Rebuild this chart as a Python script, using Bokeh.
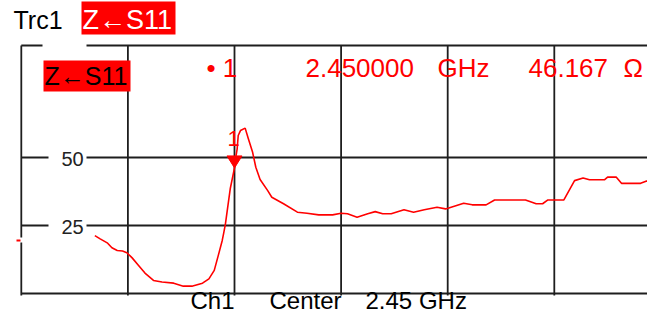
from bokeh.plotting import figure
from bokeh.models import Range1d
from bokeh.core.properties import value
from bokeh.embed import file_html
from bokeh.resources import INLINE

# ---------------- data ----------------
freq_ghz = [2.319, 2.324, 2.331, 2.335, 2.340, 2.345, 2.349, 2.354, 2.360, 2.366,
            2.374, 2.382, 2.393, 2.402, 2.410, 2.420, 2.426, 2.431, 2.435, 2.4385,
            2.440, 2.4415, 2.443, 2.446, 2.450, 2.451, 2.4525, 2.4535, 2.4556, 2.460,
            2.463, 2.467, 2.470, 2.474, 2.481, 2.485, 2.496, 2.509, 2.518, 2.529,
            2.542, 2.550, 2.556, 2.565, 2.575, 2.582, 2.589, 2.597, 2.609, 2.618,
            2.628, 2.640, 2.648, 2.651, 2.665, 2.673, 2.686, 2.694, 2.723, 2.733,
            2.739, 2.744, 2.759, 2.769, 2.777, 2.783, 2.797, 2.800, 2.808, 2.813,
            2.831, 2.836, 2.845]
z_ohm = [21.3, 20.1, 18.5, 16.8, 15.8, 15.6, 15.0, 13.1, 10.3, 7.5,
         4.8, 4.2, 3.8, 2.7, 2.7, 3.8, 5.4, 8.5, 14.3, 19.5,
         22.5, 25.6, 29.9, 38.5, 46.167, 49.5, 53.2, 58.1, 59.9, 60.8,
         56.9, 51.9, 46.4, 41.9, 37.9, 35.4, 33.0, 29.9, 29.5, 28.9,
         28.9, 29.5, 29.3, 28.0, 29.3, 30.1, 29.3, 29.3, 30.8, 29.9,
         30.8, 31.7, 31.1, 31.4, 33.2, 32.6, 32.6, 34.4, 34.4, 33.0,
         33.0, 34.4, 34.4, 41.5, 42.5, 41.8, 41.8, 42.8, 42.8, 40.5,
         40.5, 41.3, 41.3]
assert len(freq_ghz) == len(z_ohm)

marker_freq = 2.45
marker_z = 46.167
center_ghz = 2.45
y_ticks = [25, 50]
y_tick_labels = ["25", "50"]
x_grid = [2.25, 2.35, 2.45, 2.55, 2.65, 2.75]
trace_name = "Trc1"
meas_label = "Z\u2190S11"
channel = "Ch1"

# ---------------- layout helpers (canvas pixel -> data) ----------------
W, H = 647, 314
PX_PER_DIV = 106.6
GHZ_PER_DIV = 0.1
X_CENTER_PX = 234
Y_ZERO_PX = 293
PX_PER_OHM = 68 / 25


def fx(X):
    return center_ghz + (X - X_CENTER_PX) * GHZ_PER_DIV / PX_PER_DIV


def fy(Y):
    return (Y_ZERO_PX - Y) / PX_PER_OHM


RED = "#ff0000"
GRID = "#1e1e1e"
FONT = value("Liberation Sans")

p = figure(width=W, height=H, output_backend="svg", toolbar_location=None,
           x_range=Range1d(fx(0), fx(W)), y_range=Range1d(fy(H), fy(0)),
           x_axis_location=None, y_axis_location=None, min_border=0)
p.outline_line_color = None
p.grid.visible = False
p.background_fill_color = "white"
p.border_fill_color = "white"

x_left = x_grid[0]
x_right = fx(W + 5)
y_top = fy(45)
y_bot_tick = fy(295)

# frame / grid
seg_x0, seg_y0, seg_x1, seg_y1 = [], [], [], []
seg_x0 += [x_left, fx(86)]; seg_x1 += [fx(42), x_right]; seg_y0 += [y_top, y_top]; seg_y1 += [y_top, y_top]
seg_x0.append(x_left); seg_x1.append(x_right); seg_y0.append(0); seg_y1.append(0)
seg_x0 += [x_left, x_left]; seg_x1 += [x_left, x_left]
seg_y0 += [y_bot_tick, fy(237)]; seg_y1 += [fy(242), y_top]
for g in x_grid[1:]:
    seg_x0.append(g); seg_x1.append(g); seg_y0.append(y_bot_tick); seg_y1.append(y_top)
for t in y_ticks:
    seg_x0 += [x_left, fx(86)]; seg_x1 += [fx(48), x_right]; seg_y0 += [t, t]; seg_y1 += [t, t]
p.segment(x0=seg_x0, y0=seg_y0, x1=seg_x1, y1=seg_y1, line_color=GRID, line_width=1.8)

# reference indicator
p.segment(x0=[fx(16)], y0=[fy(240)], x1=[fx(20)], y1=[fy(240)], line_color=RED, line_width=2)

# tick labels
p.text(x=[fx(72)] * len(y_ticks), y=[t - 1.5 / PX_PER_OHM for t in y_ticks], text=y_tick_labels,
       text_font=FONT, text_font_size="20px", text_color="#222222", text_align="center",
       text_baseline="middle")

# trace
p.line(freq_ghz, z_ohm, line_color=RED, line_width=1.6)

# marker triangle
dx = 7.5 * GHZ_PER_DIV / PX_PER_DIV
dy = 12 / PX_PER_OHM
p.patch([marker_freq - dx, marker_freq + dx, marker_freq],
        [marker_z + dy, marker_z + dy, marker_z], fill_color=RED, line_color=RED)
p.text(x=[marker_freq - 1 * GHZ_PER_DIV / PX_PER_DIV], y=[marker_z + 29 / PX_PER_OHM], text=["1"],
       text_font=FONT, text_font_size="22px", text_color=RED, text_align="center",
       text_baseline="middle")

# header
p.text(x=[fx(13)], y=[fy(19)], text=[trace_name], text_font=FONT, text_font_size="25px",
       text_color="black", text_baseline="middle")
p.quad(left=[fx(81)], right=[fx(175)], top=[fy(1)], bottom=[fy(34)], fill_color=RED, line_color=None)
p.text(x=[fx(82)], y=[fy(19)], text=[meas_label], text_font=FONT, text_font_size="27px",
       text_color="white", text_baseline="middle")

# inner label
p.quad(left=[fx(43)], right=[fx(130)], top=[fy(60)], bottom=[fy(91)], fill_color=RED, line_color=None)
p.text(x=[fx(44)], y=[fy(75)], text=[meas_label], text_font=FONT, text_font_size="25px",
       text_color="black", text_baseline="middle")

# marker readout
row_y = fy(67.5)
p.text(x=[fx(206), fx(305), fx(437), fx(528), fx(623)], y=[row_y] * 5,
       text=["\u2022 1", f"{marker_freq:.6f}", "GHz", f"{marker_z:.3f}", "\u03a9"],
       text_font=FONT, text_font_size="26px", text_color=RED, text_baseline="middle")

# bottom channel info
bottom_y = fy(300)
p.text(x=[fx(190), fx(269), fx(365)], y=[bottom_y] * 3,
       text=[channel, "Center", f"{center_ghz:.2f} GHz"], text_font=FONT,
       text_font_size="24px", text_color="black", text_baseline="middle")

open("out.html", "w").write(file_html(p, INLINE))
